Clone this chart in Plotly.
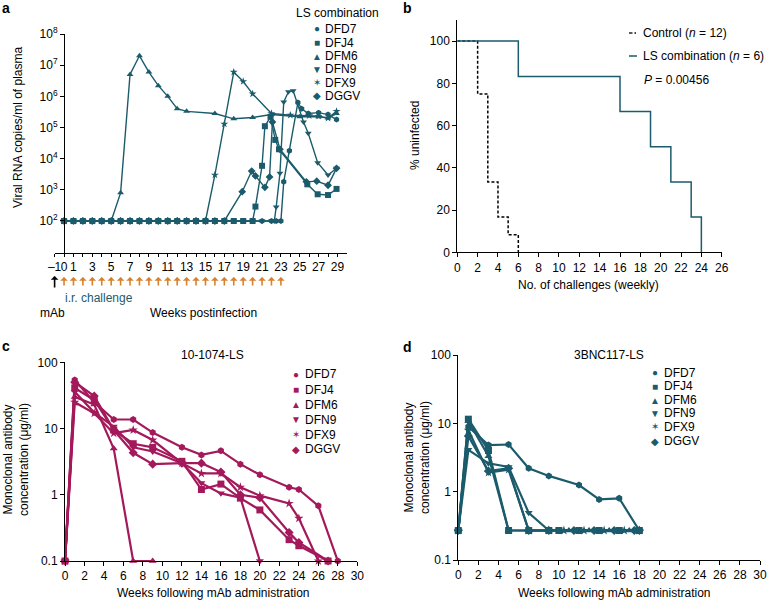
import plotly.graph_objects as go

W, H = 777, 601
TEAL = '#1b5b6b'
CRIM = '#a3195b'
ORANGE = '#d8812d'
FONT = 'Liberation Sans, Arial, sans-serif'

# ---------------- Panel a: viral load ----------------
names = ['DFD7', 'DFJ4', 'DFM6', 'DFN9', 'DFX9', 'DGGV']
symbols = ['hexagon', 'square', 'triangle-up', 'triangle-down', 'star', 'diamond']

a_DFD7_wk = [0, 1, 2, 3, 4, 5, 6, 7, 8, 9, 10, 11, 12, 13, 14, 15, 16, 17, 18, 19, 20, 21, 22, 22.5, 23,
             23.3, 23.9, 24.8, 25.2, 25.9, 27, 28, 28.9]
a_DFD7_vl = [100] * 25 + [1800, 18000, 630000, 400000, 280000, 300000, 260000, 180000]

a_DFJ4_wk = [0, 1, 2, 3, 4, 5, 6, 7, 8, 9, 10, 11, 12, 13, 14, 15, 16, 17, 18, 19, 20,
             20.3, 21, 21.3, 21.9, 22.4, 22.8, 25.8, 26.9, 28, 28.9]
a_DFJ4_vl = [100] * 21 + [290, 5900, 110000, 220000, 40000, 20000, 1500, 720, 680, 1070]

a_DFM6_wk = [0, 1, 2, 3, 4, 5, 6, 7, 8, 9, 10, 11, 12, 13, 16, 18, 20, 22, 25, 27, 28, 28.9]
a_DFM6_vl = [100] * 6 + [800, 5e6, 2e7, 6e6, 2.2e6, 1e6, 4e5, 3.3e5, 2.8e5, 1.9e5, 2.1e5, 2.6e5,
                         2.2e5, 2.2e5, 2e5, 2.8e5]

a_DFN9_wk = [0, 1, 2, 3, 4, 5, 6, 7, 8, 9, 10, 11, 12, 13, 14, 15, 16, 17, 18, 19, 20, 21, 22, 22.3,
             22.5, 22.9, 23.3, 23.8, 24.3, 25.4, 25.9, 26.9, 28, 28.9]
a_DFN9_vl = [100] * 24 + [280, 3400, 660000, 1.4e6, 1.5e6, 150000, 65000, 7400, 3000, 4900]

a_DFX9_wk = [0, 1, 2, 3, 4, 5, 6, 7, 8, 9, 10, 11, 12, 13, 14, 15,
             16, 17, 18, 19, 20, 22, 24, 26, 27, 28, 28.9]
a_DFX9_vl = [100] * 16 + [3000, 130000, 6e6, 3e6, 1.2e6, 2.8e5, 2.5e5, 2.4e5, 2.3e5, 2e5, 3.3e5]

a_DGGV_wk = [0, 1, 2, 3, 4, 5, 6, 7, 8, 9, 10, 11, 12, 13, 14, 15, 16, 17,
             18.9, 19.9, 20.3, 21.3, 21.8, 22.1, 22.9, 25.7, 26.8, 28, 28.9]
a_DGGV_vl = [100] * 18 + [870, 4000, 2800, 1200, 2600, 150000, 20000, 1800, 1900, 1400, 4900]

a_weeks = [a_DFD7_wk, a_DFJ4_wk, a_DFM6_wk, a_DFN9_wk, a_DFX9_wk, a_DGGV_wk]
a_vals = [a_DFD7_vl, a_DFJ4_vl, a_DFM6_vl, a_DFN9_vl, a_DFX9_vl, a_DGGV_vl]

a_xtick_vals = list(range(-1, 30))
a_xtick_text = ['\u20131', '0'] + [str(v) if v % 2 == 1 else '' for v in range(1, 30)]
a_ytick_vals = [1e2, 1e3, 1e4, 1e5, 1e6, 1e7, 1e8]
a_ytick_text = ['10<sup>%d</sup>' % e for e in range(2, 9)]
challenge_weeks = [0, 1, 2, 3, 4, 5, 6, 7, 8, 9, 10, 11, 12, 13, 14, 15, 16, 17, 18, 19, 20, 21, 22, 23]
mab_week = -1

# ---------------- Panel b: Kaplan-Meier ----------------
b_ctrl_x = [0, 2, 3, 4, 5, 6]
b_ctrl_y = [100, 75, 33.3, 16.7, 8.3, 0]
b_ls_x = [0, 6, 16, 19, 21, 23, 24]
b_ls_y = [100, 83.3, 66.7, 50, 33.3, 16.7, 0]

# ---------------- Panel c: 10-1074-LS ----------------
c_DFD7_wk = [0, 1, 3, 5, 7, 9, 12, 14, 16, 18, 20, 23, 24, 26, 28]
c_DFD7 = [0.1, 54, 25, 13.7, 13.7, 8.7, 5.2, 4.0, 4.6, 2.9, 2.0, 1.3, 1.2, 0.68, 0.1]
c_DFJ4_wk = [0, 1, 3, 5, 7, 9, 12, 14, 16, 18, 20, 23, 24, 27]
c_DFJ4 = [0.1, 41, 27, 9.5, 5.9, 5.2, 3.2, 1.2, 1.45, 0.89, 0.59, 0.21, 0.17, 0.1]
c_DFM6_wk = [0, 1, 3, 5, 7, 9]
c_DFM6 = [0.1, 30, 23, 5.0, 0.1, 0.1]
c_DFN9_wk = [0, 1, 3, 5, 7, 9, 12, 14, 16, 18, 20]
c_DFN9 = [0.1, 36, 17.4, 10.7, 5.2, 4.5, 3.0, 1.5, 1.05, 0.9, 0.1]
c_DFX9_wk = [0, 1, 3, 5, 7, 9, 12, 14, 16, 18, 20, 23, 24, 26]
c_DFX9 = [0.1, 25, 17, 8.5, 9.5, 6.7, 3.0, 2.1, 2.1, 1.3, 0.97, 0.74, 0.44, 0.1]
c_DGGV_wk = [0, 1, 3, 5, 7, 9, 12, 14, 16, 18, 20, 23, 24, 27]
c_DGGV = [0.1, 50, 31, 9.5, 4.3, 2.9, 3.0, 3.0, 2.2, 1.0, 0.9, 0.27, 0.19, 0.1]
c_weeks = [c_DFD7_wk, c_DFJ4_wk, c_DFM6_wk, c_DFN9_wk, c_DFX9_wk, c_DGGV_wk]
c_vals = [c_DFD7, c_DFJ4, c_DFM6, c_DFN9, c_DFX9, c_DGGV]

# ---------------- Panel d: 3BNC117-LS ----------------
d_DFD7_wk = [0, 1, 3, 5, 7, 9, 12, 14, 16, 18]
d_DFD7 = [0.27, 8.9, 4.8, 4.9, 2.2, 1.7, 1.25, 0.77, 0.8, 0.27]
d_DFJ4_wk = [0, 1, 3, 5, 7, 9, 10, 12, 14, 16, 18]
d_DFJ4 = [0.27, 11.5, 4.0, 0.27, 0.27, 0.27, 0.27, 0.27, 0.27, 0.27, 0.27]
d_DFM6_wk = [0, 1, 3, 5, 7, 9, 11, 13, 15, 17, 18]
d_DFM6 = [0.27, 10.8, 3.3, 0.27, 0.27, 0.27, 0.27, 0.27, 0.27, 0.27, 0.27]
d_DFN9_wk = [0, 1, 3, 5, 7, 9, 10, 12, 14, 16, 18]
d_DFN9 = [0.27, 4.1, 2.6, 2.3, 0.49, 0.27, 0.27, 0.27, 0.27, 0.27, 0.27]
d_DFX9_wk = [0, 1, 3, 5, 7, 9, 10.5, 12.5, 14.5, 16.5, 18]
d_DFX9 = [0.27, 7.9, 1.9, 2.1, 0.27, 0.27, 0.27, 0.27, 0.27, 0.27, 0.27]
d_DGGV_wk = [0, 1, 3, 5, 7, 9, 11.5, 13.5, 15.5, 17.5, 18]
d_DGGV = [0.27, 6.5, 2.0, 2.2, 0.27, 0.27, 0.27, 0.27, 0.27, 0.27, 0.27]
d_weeks = [d_DFD7_wk, d_DFJ4_wk, d_DFM6_wk, d_DFN9_wk, d_DFX9_wk, d_DGGV_wk]
d_vals = [d_DFD7, d_DFJ4, d_DFM6, d_DFN9, d_DFX9, d_DGGV]

log_ticks = [0.1, 1, 10, 100]
log_text = ['0.1', '1', '10', '100']
even_ticks = list(range(0, 31, 2))


def px(x):
    return x / W


def py(y):
    return 1 - y / H


fig = go.Figure()

# panel a traces
for wk, vl, nm, sy in zip(a_weeks, a_vals, names, symbols):
    fig.add_trace(go.Scatter(x=wk, y=vl, mode='lines+markers', name=nm,
                             line=dict(color=TEAL, width=1.4),
                             marker=dict(symbol=sy, size=6, color=TEAL),
                             cliponaxis=False, showlegend=False,
                             xaxis='x', yaxis='y'))

# panel b traces
fig.add_trace(go.Scatter(x=b_ctrl_x, y=b_ctrl_y, mode='lines', line_shape='hv',
                         line=dict(color='black', width=1.5, dash='3px,2px'),
                         showlegend=False, xaxis='x2', yaxis='y2', cliponaxis=False))
fig.add_trace(go.Scatter(x=b_ls_x, y=b_ls_y, mode='lines', line_shape='hv',
                         line=dict(color=TEAL, width=1.5),
                         showlegend=False, xaxis='x2', yaxis='y2', cliponaxis=False))

# panel c traces
for wk, vl, nm, sy in zip(c_weeks, c_vals, names, symbols):
    fig.add_trace(go.Scatter(x=wk, y=vl, mode='lines+markers', name=nm,
                             line=dict(color=CRIM, width=2.2),
                             marker=dict(symbol=sy, size=7, color=CRIM),
                             cliponaxis=False, showlegend=False,
                             xaxis='x3', yaxis='y3'))

# panel d traces
for wk, vl, nm, sy in zip(d_weeks, d_vals, names, symbols):
    fig.add_trace(go.Scatter(x=wk, y=vl, mode='lines+markers', name=nm,
                             line=dict(color=TEAL, width=2.2),
                             marker=dict(symbol=sy, size=7, color=TEAL),
                             cliponaxis=False, showlegend=False,
                             xaxis='x4', yaxis='y4'))


def axis(**kw):
    base = dict(showgrid=False, zeroline=False, showline=True, linecolor='black',
                linewidth=1, ticks='outside', ticklen=4, tickwidth=1, tickcolor='black',
                tickangle=0, automargin=False,
                tickfont=dict(family=FONT, size=12, color='black'))
    base.update(kw)
    return base


fig.update_layout(
    width=W, height=H, margin=dict(l=0, r=0, t=0, b=0),
    paper_bgcolor='white', plot_bgcolor='white',
    font=dict(family=FONT, size=12, color='black'),
    xaxis=axis(domain=[px(54.6), px(346.9)], range=[-1, 30],
               tickmode='array', tickvals=a_xtick_vals, ticktext=a_xtick_text,
               anchor='y', ticklen=3),
    yaxis=axis(type='log', domain=[py(253), py(34)], range=[0.973, 8],
               tickmode='array', tickvals=a_ytick_vals, ticktext=a_ytick_text,
               anchor='free', position=px(64)),
    xaxis2=axis(domain=[px(457.3), px(721.7)], range=[0, 26],
                tickmode='array', tickvals=list(range(0, 27, 2)), anchor='y2'),
    yaxis2=axis(domain=[py(252.3), py(20)], range=[0, 110],
                tickmode='array', tickvals=[0, 20, 40, 60, 80, 100], anchor='x2'),
    xaxis3=axis(domain=[px(65), px(357.3)], range=[0, 30],
                tickmode='array', tickvals=even_ticks, anchor='y3'),
    yaxis3=axis(type='log', domain=[py(561), py(362.3)], range=[-1, 2],
                tickmode='array', tickvals=log_ticks, ticktext=log_text, anchor='x3'),
    xaxis4=axis(domain=[px(458.3), px(760)], range=[0, 30],
                tickmode='array', tickvals=even_ticks, anchor='y4'),
    yaxis4=axis(type='log', domain=[py(560), py(355)], range=[-1, 2],
                tickmode='array', tickvals=log_ticks, ticktext=log_text, anchor='x4'),
)

ann = []


def text(x, y, s, size=12, color='black', xanchor='center', angle=0, bold=False):
    ann.append(dict(x=px(x), y=py(y), xref='paper', yref='paper', text=('<b>%s</b>' % s) if bold else s,
                    showarrow=False, xanchor=xanchor, yanchor='middle', textangle=angle,
                    font=dict(family=FONT, size=size, color=color)))


# panel letters
text(6, 8, 'a', 14, bold=True)
text(407, 8, 'b', 14, bold=True)
text(6, 346, 'c', 14, bold=True)
text(407, 347, 'd', 14, bold=True)

# panel a titles
text(18, 127, 'Viral RNA copies/ml of plasma', 12, angle=-90)
text(204, 313, 'Weeks postinfection', 12)
text(52, 313, 'mAb', 12)
text(99, 298, 'i.r. challenge', 12, color=TEAL)

# panel a legend
glyphs = ['\u25CF', '\u25A0', '\u25B2', '\u25BC', '\u2736', '\u25C6']
text(337, 13, 'LS combination', 12)
a_rows = [29, 42.7, 56, 69.3, 82.7, 96]
for yy, g, nm in zip(a_rows, glyphs, names):
    text(317, yy, g, 10, color=TEAL)
    text(323, yy, nm, 12, xanchor='left')

# challenge arrows
for wk in challenge_weeks:
    ann.append(dict(x=wk, y=py(277), xref='x', yref='paper', text='', showarrow=True,
                    ax=0, ay=10, axref='pixel', ayref='pixel', arrowhead=1, arrowsize=0.8,
                    arrowwidth=1.6, arrowcolor=ORANGE))
ann.append(dict(x=mab_week, y=py(276), xref='x', yref='paper', text='', showarrow=True,
                ax=0, ay=13, arrowhead=1, arrowsize=0.8, arrowwidth=1.6, arrowcolor='black'))

# panel b
text(415, 136, '% uninfected', 12, angle=-90)
text(588, 285, 'No. of challenges (weekly)', 12)
text(641, 33, 'Control (<i>n</i> = 12)', 12, xanchor='left')
text(641, 56, 'LS combination (<i>n</i> = 6)', 12, xanchor='left')
text(642, 80, '<i>P</i> = 0.00456', 12, xanchor='left')

shapes = [
    dict(type='line', xref='paper', yref='paper', x0=px(629), x1=px(632.5), y0=py(33), y1=py(33),
         line=dict(color='black', width=1.3)),
    dict(type='line', xref='paper', yref='paper', x0=px(634.5), x1=px(636), y0=py(33), y1=py(33),
         line=dict(color='black', width=1.3)),
    dict(type='line', xref='paper', yref='paper', x0=px(629), x1=px(637), y0=py(56), y1=py(56),
         line=dict(color=TEAL, width=1.5)),
]

# panel c
text(16, 460, 'Monoclonal antibody<br>concentration (\u03bcg/ml)', 12, angle=-90)
text(213, 593, 'Weeks following mAb administration', 12)
text(212.5, 355, '10-1074-LS', 12)
c_rows = [374, 389.5, 404.5, 419.5, 434.5, 449]
for yy, g, nm in zip(c_rows, glyphs, names):
    text(296, yy, g, 10, color=CRIM)
    text(302.5, yy, nm, 12, xanchor='left')

# panel d
text(417, 458, 'Monoclonal antibody<br>concentration (\u03bcg/ml)', 12, angle=-90)
text(614, 593, 'Weeks following mAb administration', 12)
text(609, 355, '3BNC117-LS', 12)
d_rows = [372.7, 386, 400, 413.3, 426.7, 441]
for yy, g, nm in zip(d_rows, glyphs, names):
    text(655, yy, g, 10, color=TEAL)
    text(661.5, yy, nm, 12, xanchor='left')

fig.update_layout(annotations=ann, shapes=shapes)
fig.write_html('out.html', config={'displayModeBar': False},
               post_script="document.body.style.margin='0';document.body.style.padding='0';"
                           "document.body.style.overflow='hidden';")
